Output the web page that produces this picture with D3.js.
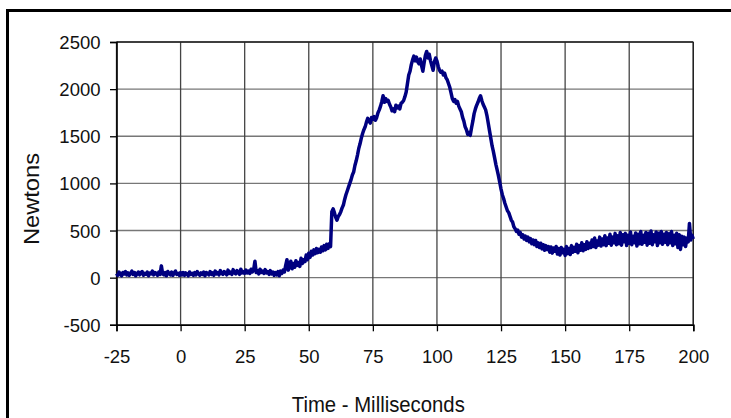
<!DOCTYPE html>
<html>
<head>
<meta charset="utf-8">
<script src="https://cdn.jsdelivr.net/npm/d3@7/dist/d3.min.js"></script>
<style>
  html, body { margin: 0; padding: 0; background: #fff; }
  svg { display: block; }
  text { font-family: "Liberation Sans", Arial, sans-serif; fill: #111; }
</style>
</head>
<body>
<svg id="chart" width="731" height="418"></svg>
<script>
// ---- data ----
const timeStart = -25;  // ms
const timeStep = 0.5;   // ms between samples
const force = [
  // -25 .. 0
  45, 25, 60, 35, 20, 55, 40, 65, 30, 50, 25, 45, 70, 35, 55, 20, 40, 60, 30, 50,
  65, 25, 45, 35, 60, 20, 50, 40, 70, 30, 55, 45, 25, 60, 35, 125, 40, 30, 55, 20,
  65, 45, 30, 60, 25, 50, 70, 35, 45, 25, 55,
  // 0.5 .. 25
  30, 55, 25, 50, 40, 20, 60, 35, 45, 25, 55, 30, 65, 40, 25, 50, 35, 60, 20, 55,
  45, 30, 65, 35, 50, 25, 70, 40, 55, 30, 75, 45, 35, 65, 50, 30, 80, 45, 60, 35,
  85, 50, 40, 75, 55, 35, 90, 50, 65, 45,
  // 25.5 .. 40
  80, 50, 70, 45, 90, 60, 85, 175, 55, 75, 40, 90, 55, 70, 45, 85, 50, 65, 35, 75,
  40, 60, 25, 55, 30, 65, 20, 70, 45, 80,
  // 40.5 .. 58.5
  60, 130, 190, 80, 120, 175, 95, 150, 110, 180, 130, 160, 120, 205, 150, 190, 170, 240, 190, 260,
  215, 280, 240, 295, 255, 310, 265, 300, 270, 325, 285, 340, 295, 355, 310, 360, 330,
  // 59 .. 65
  700, 730, 690, 640, 610, 650, 670, 700, 740, 770, 830, 880, 920,
  // 65.5 .. 79
  960, 1000, 1040, 1090, 1120, 1190, 1240, 1300, 1370, 1420, 1480, 1530, 1570, 1600, 1650, 1690, 1660, 1640, 1700, 1680,
  1710, 1670, 1700, 1750, 1780, 1820, 1870, 1930,
  // 79.5 .. 88
  1860, 1900, 1870, 1880, 1840, 1810, 1770, 1790, 1760, 1830, 1800, 1820, 1790, 1850, 1860, 1880, 1920, 1970,
  // 88.5 .. 100
  2060, 2150, 2190, 2260, 2310, 2350, 2300, 2340, 2290, 2270, 2320, 2250, 2190, 2280, 2360, 2400, 2330, 2370, 2300, 2250,
  2200, 2290, 2330, 2300,
  // 100.5 .. 120
  2240, 2200, 2180, 2190, 2150, 2170, 2120, 2100, 2060, 2020, 1960, 1900, 1870, 1890, 1850, 1870, 1820, 1790, 1760, 1700,
  1660, 1600, 1570, 1520, 1540, 1510, 1590, 1660, 1740, 1790, 1830, 1860, 1900, 1930, 1880, 1840, 1810, 1780, 1720, 1640,
  // 120.5 .. 135
  1560, 1480, 1400, 1340, 1270, 1200, 1140, 1080, 1010, 940, 880, 840, 790, 750, 710, 690, 650, 610, 590, 540,
  520, 490, 505, 460, 480, 430, 455, 410, 440, 395,
  // 135.5 .. 160
  430, 380, 415, 360, 400, 350, 395, 330, 370, 320, 365, 305, 350, 290, 340, 300, 330, 270, 325, 260,
  315, 280, 330, 250, 310, 240, 320, 265, 300, 235, 330, 255, 310, 245, 340, 270, 320, 280, 355, 265,
  340, 290, 370, 285, 350, 300, 380, 310, 365, 320,
  // 160.5 .. 200
  400, 330, 420, 320, 390, 345, 430, 335, 410, 350, 445, 340, 420, 365, 460, 345, 430, 370, 470, 350,
  445, 360, 480, 345, 455, 380, 470, 340, 450, 365, 485, 350, 440, 370, 475, 335, 460, 360, 490, 355,
  450, 375, 480, 345, 470, 365, 495, 350, 455, 380, 485, 340, 470, 370, 490, 355, 460, 375, 480, 350,
  465, 370, 490, 340, 450, 360, 470, 320, 455, 300, 440, 350, 430, 330, 420, 380, 575, 400, 450, 410
];
const xTicks = [-25, 0, 25, 50, 75, 100, 125, 150, 175, 200];
const yTicks = [-500, 0, 500, 1000, 1500, 2000, 2500];
const xTitle = "Time - Milliseconds";
const yTitle = "Newtons";

const points = force.map((v, i) => ({ t: timeStart + i * timeStep, v: v }));

// ---- layout ----
const svg = d3.select("#chart");
const pL = 116.5, pR = 693.3, pT = 42, pB = 324.8;

const x = d3.scaleLinear().domain([-25, 200]).range([pL, pR]);
const y = d3.scaleLinear().domain([-500, 2500]).range([pB, pT]);

// outer frame (only top and left visible)
svg.append("line").attr("x1", 7.5).attr("x2", 731).attr("y1", 10.5).attr("y2", 10.5)
  .attr("stroke", "#000").attr("stroke-width", 3);
svg.append("line").attr("x1", 7.5).attr("x2", 7.5).attr("y1", 9).attr("y2", 418)
  .attr("stroke", "#000").attr("stroke-width", 3);

// gridlines
svg.append("g").selectAll("line").data(yTicks).join("line")
  .attr("x1", pL).attr("x2", pR)
  .attr("y1", d => y(d)).attr("y2", d => y(d))
  .attr("stroke", "#777").attr("stroke-width", 1.4);
svg.append("g").selectAll("line").data(xTicks).join("line")
  .attr("x1", d => x(d)).attr("x2", d => x(d))
  .attr("y1", pT).attr("y2", pB)
  .attr("stroke", "#444").attr("stroke-width", 1.3);

// plot border top/right
svg.append("line").attr("x1", pL).attr("x2", pR).attr("y1", pT).attr("y2", pT)
  .attr("stroke", "#222").attr("stroke-width", 1.4);
svg.append("line").attr("x1", pR).attr("x2", pR).attr("y1", pT).attr("y2", pB)
  .attr("stroke", "#222").attr("stroke-width", 1.4);

// axes
const fmt = d => String(d);
const yAxis = d3.axisLeft(y).tickValues(yTicks).tickSize(6.5).tickPadding(10).tickFormat(fmt);
const xAxis = d3.axisBottom(x).tickValues(xTicks).tickSize(6.5).tickPadding(14).tickFormat(fmt);

const gy = svg.append("g").attr("transform", `translate(${pL},0)`).call(yAxis);
const gx = svg.append("g").attr("transform", `translate(0,${pB})`).call(xAxis);
[gx, gy].forEach(g => {
  g.select(".domain").attr("stroke", "#000").attr("stroke-width", 1.6);
  g.selectAll(".tick line").attr("stroke", "#000").attr("stroke-width", 1.3);
  g.selectAll(".tick text").attr("font-family", "Liberation Sans, Arial, sans-serif")
    .attr("font-size", 18.5).attr("fill", "#111");
});
gx.selectAll(".tick text").attr("dy", 0).attr("y", 38.7);
gy.selectAll(".tick text").attr("dy", "0.35em").attr("x", -16);

// data line
const line = d3.line().x(d => x(d.t)).y(d => y(d.v));
svg.append("path").datum(points)
  .attr("d", line)
  .attr("fill", "none")
  .attr("stroke", "#000080")
  .attr("stroke-width", 3.5)
  .attr("stroke-linejoin", "round");

// titles
svg.append("text")
  .attr("x", 378.3).attr("y", 411.7)
  .attr("text-anchor", "middle")
  .attr("font-size", 22)
  .attr("textLength", 173).attr("lengthAdjust", "spacingAndGlyphs")
  .text(xTitle);
svg.append("text")
  .attr("transform", "translate(39.3,199) rotate(-90)")
  .attr("text-anchor", "middle")
  .attr("font-size", 22)
  .attr("textLength", 92).attr("lengthAdjust", "spacingAndGlyphs")
  .text(yTitle);
</script>
</body>
</html>
